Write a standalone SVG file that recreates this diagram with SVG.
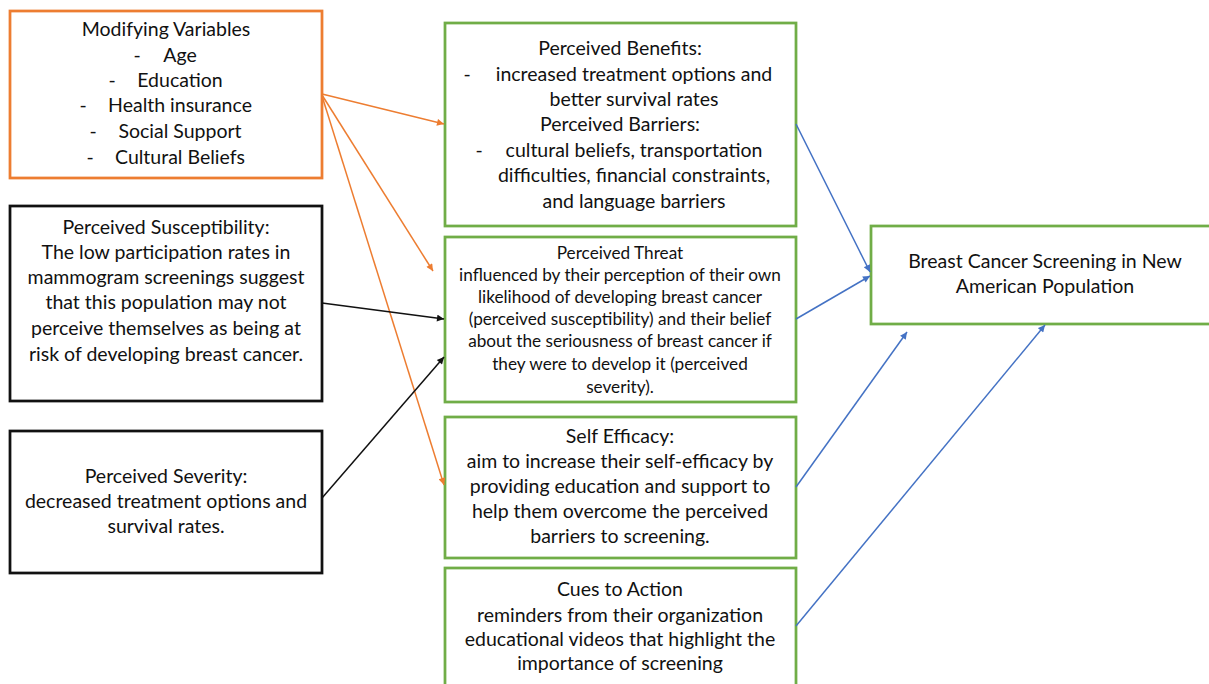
<svg xmlns="http://www.w3.org/2000/svg" width="1209" height="684" viewBox="0 0 1209 684">
<style>
text{font-family:Lato,"Open Sans","Liberation Sans",sans-serif;font-size:19.5px;fill:#111;text-anchor:middle}
.sm{font-size:17.2px}
.box{fill:#fff;stroke-width:2.75}
.o{stroke:#ED7D31}.g{stroke:#70AD47}.k{stroke:#111}
.c{fill:none;stroke-width:1.5}
.co{stroke:#ED7D31}.cb{stroke:#4472C4}.ck{stroke:#111}
</style>
<defs>
<marker id="ao" viewBox="0 0 10 10" refX="10" refY="5" markerWidth="9" markerHeight="7" markerUnits="userSpaceOnUse" orient="auto"><path d="M0,0 L10,5 L0,10 z" fill="#ED7D31"/></marker>
<marker id="ab" viewBox="0 0 10 10" refX="10" refY="5" markerWidth="9" markerHeight="7" markerUnits="userSpaceOnUse" orient="auto"><path d="M0,0 L10,5 L0,10 z" fill="#4472C4"/></marker>
<marker id="ak" viewBox="0 0 10 10" refX="10" refY="5" markerWidth="9" markerHeight="7" markerUnits="userSpaceOnUse" orient="auto"><path d="M0,0 L10,5 L0,10 z" fill="#111"/></marker>
</defs>
<rect width="1209" height="684" fill="#fff"/>

<g id="modifying">
<rect class="box o" x="10" y="11" width="312" height="167"/>
<text x="166" y="36">Modifying Variables</text>
<text x="137" y="62">-</text><text x="180" y="62">Age</text>
<text x="112" y="87">-</text><text x="180" y="87">Education</text>
<text x="83" y="112">-</text><text x="180" y="112">Health insurance</text>
<text x="93" y="138">-</text><text x="180" y="138">Social Support</text>
<text x="90" y="164">-</text><text x="180" y="164">Cultural Beliefs</text>
</g>

<g id="susceptibility">
<rect class="box k" x="10" y="206" width="312" height="195"/>
<text x="166" y="234">Perceived Susceptibility:</text>
<text x="166" y="259">The low participation rates in</text>
<text x="166" y="284">mammogram screenings suggest</text>
<text x="166" y="309">that this population may not</text>
<text x="166" y="335">perceive themselves as being at</text>
<text x="166" y="361">risk of developing breast cancer.</text>
</g>

<g id="severity">
<rect class="box k" x="10" y="431" width="312" height="142"/>
<text x="166" y="483">Perceived Severity:</text>
<text x="166" y="508">decreased treatment options and</text>
<text x="166" y="533">survival rates.</text>
</g>

<g id="benefits">
<rect class="box g" x="445" y="23" width="351" height="203"/>
<text x="620" y="55">Perceived Benefits:</text>
<text x="467" y="81">-</text><text x="634" y="81">increased treatment options and</text>
<text x="634" y="106">better survival rates</text>
<text x="620" y="131">Perceived Barriers:</text>
<text x="479" y="157">-</text><text x="634" y="157">cultural beliefs, transportation</text>
<text x="634" y="182">difficulties, financial constraints,</text>
<text x="634" y="208">and language barriers</text>
</g>

<g id="threat">
<rect class="box g" x="445" y="237" width="351" height="165"/>
<text class="sm" x="620" y="259">Perceived Threat</text>
<text class="sm" x="620" y="281">influenced by their perception of their own</text>
<text class="sm" x="620" y="303">likelihood of developing breast cancer</text>
<text class="sm" x="620" y="325">(perceived susceptibility) and their belief</text>
<text class="sm" x="620" y="347">about the seriousness of breast cancer if</text>
<text class="sm" x="620" y="370">they were to develop it (perceived</text>
<text class="sm" x="620" y="393">severity).</text>
</g>

<g id="efficacy">
<rect class="box g" x="445" y="417" width="351" height="141"/>
<text x="620" y="443">Self Efficacy:</text>
<text x="620" y="468">aim to increase their self-efficacy by</text>
<text x="620" y="493">providing education and support to</text>
<text x="620" y="518">help them overcome the perceived</text>
<text x="620" y="543">barriers to screening.</text>
</g>

<g id="cues">
<rect class="box g" x="445" y="568" width="351" height="130"/>
<text x="620" y="596">Cues to Action</text>
<text x="620" y="622">reminders from their organization</text>
<text x="620" y="646">educational videos that highlight the</text>
<text x="620" y="670">importance of screening</text>
</g>

<g id="outcome">
<rect class="box g" x="871" y="226" width="350" height="98"/>
<text x="1045" y="268">Breast Cancer Screening in New</text>
<text x="1045" y="293">American Population</text>
</g>

<g id="connectors">
<line class="c co" x1="322" y1="94" x2="444" y2="124" marker-end="url(#ao)"/>
<line class="c co" x1="322" y1="95" x2="433" y2="271" marker-end="url(#ao)"/>
<line class="c co" x1="322" y1="96" x2="444" y2="485" marker-end="url(#ao)"/>
<line class="c ck" x1="322" y1="303" x2="444" y2="319" marker-end="url(#ak)"/>
<line class="c ck" x1="322" y1="498" x2="444" y2="357" marker-end="url(#ak)"/>
<line class="c cb" x1="796" y1="124" x2="870" y2="272" marker-end="url(#ab)"/>
<line class="c cb" x1="796" y1="319" x2="870" y2="276" marker-end="url(#ab)"/>
<line class="c cb" x1="796" y1="487" x2="907" y2="332" marker-end="url(#ab)"/>
<line class="c cb" x1="796" y1="626" x2="1045" y2="325" marker-end="url(#ab)"/>
</g>
</svg>
